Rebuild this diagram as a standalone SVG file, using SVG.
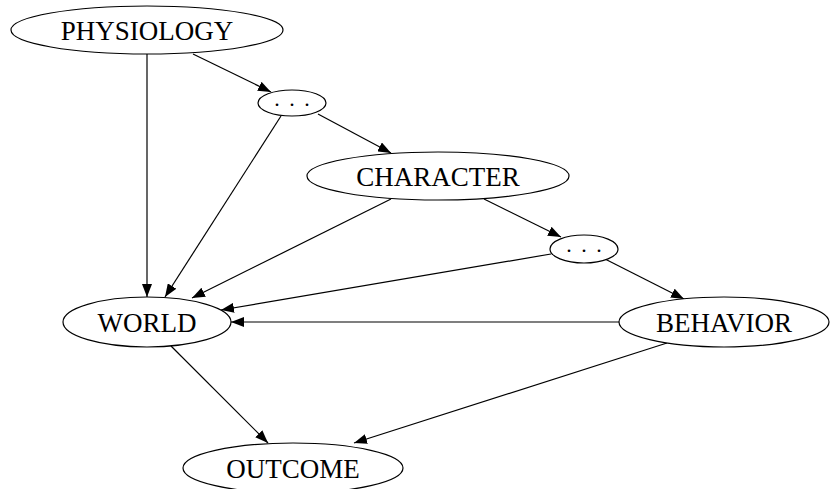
<svg xmlns="http://www.w3.org/2000/svg" width="830" height="489" viewBox="0 0 830 489">
<style>
.n ellipse{fill:#fff;stroke:#000;stroke-width:1.2}
.n text{font-family:"Liberation Serif","DejaVu Serif",serif;font-size:27px;fill:#000;text-anchor:middle}
.n text.d{font-size:22px;letter-spacing:2px}
#edges path{fill:none;stroke:#000;stroke-width:1.2;marker-end:url(#ah)}
</style>
<defs>
<marker id="ah" markerUnits="userSpaceOnUse" markerWidth="14" markerHeight="10" refX="13" refY="5" orient="auto">
<path d="M0,0 L13,5 L0,10 Z" fill="#000"/>
</marker>
</defs>
<rect width="830" height="489" fill="#fff"/>
<g id="edges">
<path d="M147,54 L147,297"/>
<path d="M193,54 L271,92"/>
<path d="M318,114 L391,153"/>
<path d="M281,116 L165,297"/>
<path d="M391,199 L192,298"/>
<path d="M484,199 L561,237"/>
<path d="M551,254 L221,310"/>
<path d="M605,259 L684,299"/>
<path d="M619,322 L231,322"/>
<path d="M171,346 L268,443"/>
<path d="M667,343 L354,443"/>
</g>
<g id="physiology" class="n"><ellipse cx="147" cy="30" rx="136" ry="24"/><text x="147" y="39.5">PHYSIOLOGY</text></g>
<g id="dots1" class="n"><ellipse cx="292" cy="103" rx="34" ry="13"/><text class="d" x="293" y="106">. . .</text></g>
<g id="character" class="n"><ellipse cx="438" cy="176" rx="131" ry="24"/><text x="438" y="185.5">CHARACTER</text></g>
<g id="dots2" class="n"><ellipse cx="584" cy="249" rx="34" ry="14"/><text class="d" x="585" y="252">. . .</text></g>
<g id="world" class="n"><ellipse cx="147" cy="322" rx="84" ry="25"/><text x="147" y="331.5">WORLD</text></g>
<g id="behavior" class="n"><ellipse cx="724" cy="322" rx="105" ry="25"/><text x="724" y="331.5">BEHAVIOR</text></g>
<g id="outcome" class="n"><ellipse cx="293" cy="468" rx="110" ry="25"/><text x="293" y="477.5">OUTCOME</text></g>
</svg>
